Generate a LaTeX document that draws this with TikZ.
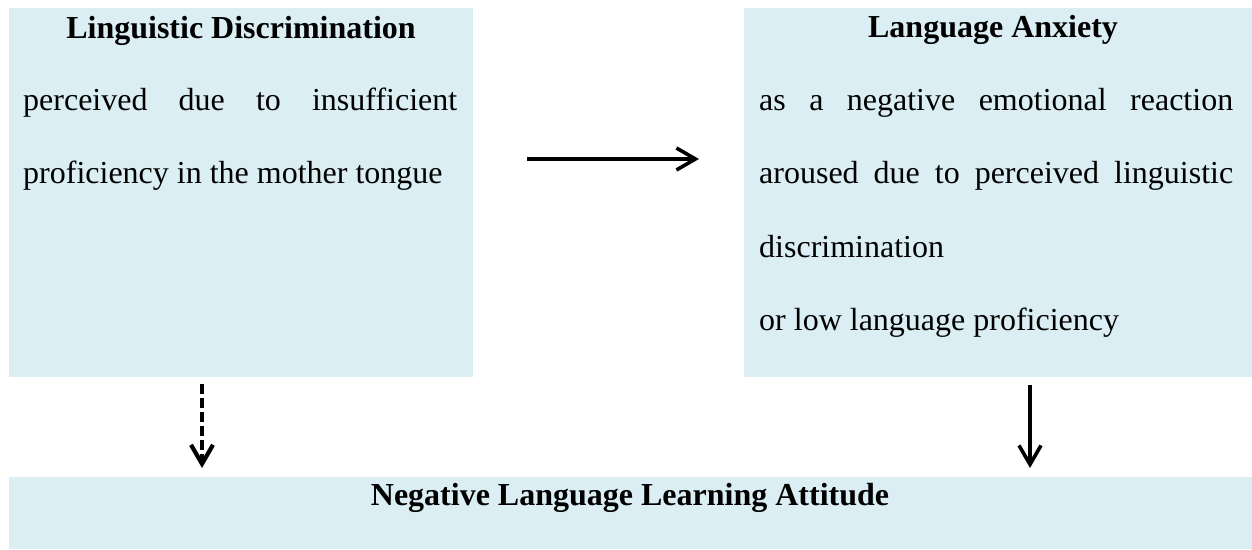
\documentclass[tikz,border=0pt]{standalone}
\usepackage{fontspec}
\setmainfont{Liberation Serif}
\usetikzlibrary{arrows.meta}
\definecolor{boxblue}{HTML}{DAEEF3}
\begin{document}
\begin{tikzpicture}[x=1pt,y=-1pt,
  panel/.style={fill=boxblue, draw=none, inner sep=0pt, anchor=north west},
  txt/.style={anchor=base west, inner sep=0pt, font=\fontsize{32}{38}\selectfont},
  ttl/.style={anchor=base, inner sep=0pt, font=\fontsize{32}{38}\selectfont\bfseries},
  arr/.style={line width=3.6pt, -{Straight Barb[length=19pt,width=22pt]}},
  darr/.style={arr, line width=4.2pt, dash pattern=on 10pt off 4pt}]
\useasboundingbox (0,0) rectangle (1252,549);
% panels
\node[panel, minimum width=464pt, minimum height=369pt] (ld) at (9,8) {};
\node[panel, minimum width=508pt, minimum height=369pt] (la) at (744,8) {};
\node[panel, minimum width=1243pt, minimum height=72pt] (nla) at (9,477) {};
% left texts
\node[ttl] (ldt) at (241,38) {Linguistic Discrimination};
\node[txt] (ld1) at (23,110) {\makebox[434pt][s]{perceived due to insufficient}};
\node[txt] (ld2) at (23,183) {proficiency in the mother tongue};
% right texts
\node[ttl] (lat) at (993,37) {Language Anxiety};
\node[txt] (la1) at (759,110) {\makebox[474pt][s]{as a negative emotional reaction}};
\node[txt] (la2) at (759,183) {\makebox[474pt][s]{aroused due to perceived linguistic}};
\node[txt] (la3) at (759,257) {discrimination};
\node[txt] (la4) at (759,330) {or low language proficiency};
% bottom text
\node[ttl] (nlt) at (630,505) {Negative Language Learning Attitude};
% connectors
\draw[arr] ([shift={(54,151)}]ld.north east) -- ([shift={(-45,151)}]la.north west);
\draw[darr] ([shift={(193,7)}]ld.south west) -- ([shift={(193,-9)}]nla.north west);
\draw[arr] ([shift={(286,8)}]la.south west) -- ([shift={(1021,-9)}]nla.north west);
\end{tikzpicture}
\end{document}
